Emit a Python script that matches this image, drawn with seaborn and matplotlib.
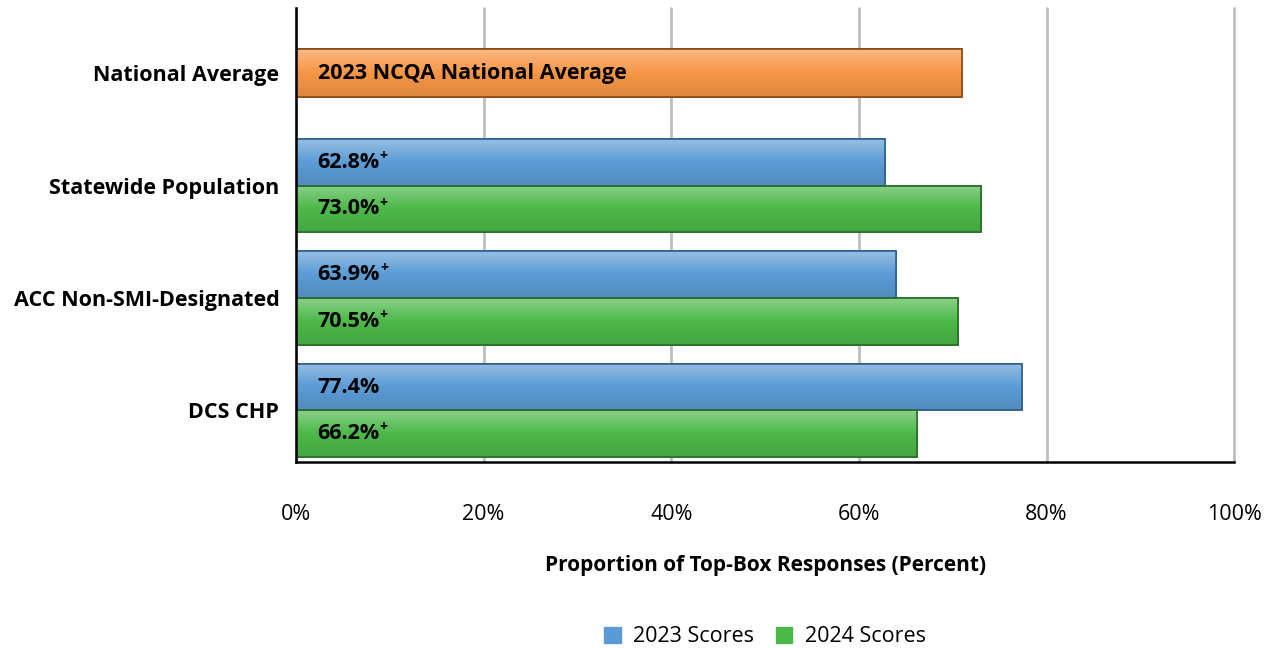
import matplotlib
matplotlib.use("Agg")
import matplotlib.pyplot as plt
import matplotlib.colors as mcolors
import numpy as np
import pandas as pd
import seaborn as sns

# data
groups = ["Statewide Population", "ACC Non-SMI-Designated", "DCS CHP"]
scores_2023 = [62.8, 63.9, 77.4]
scores_2024 = [73.0, 70.5, 66.2]
plus_2023 = [True, True, False]
plus_2024 = [True, True, True]
national_label = "National Average"
national_value = 71.0
national_text = "2023 NCQA National Average"
series = ["2023 Scores", "2024 Scores"]
colors = {"2023 Scores": "#5B9BD5", "2024 Scores": "#4CB848"}
edges = {"2023 Scores": "#2F5F8A", "2024 Scores": "#2A6E27"}
nat_color = "#F79646"

order = [national_label] + groups

df = pd.DataFrame({
    "group": groups * 2,
    "series": [series[0]] * 3 + [series[1]] * 3,
    "value": scores_2023 + scores_2024,
    "plus": plus_2023 + plus_2024,
})
nat = pd.DataFrame({"group": [national_label], "value": [national_value]})

sns.set_style("white")
plt.rcParams["font.family"] = ["Open Sans", "DejaVu Sans"]
plt.rcParams["text.color"] = "black"
plt.rcParams["xtick.color"] = "black"
plt.rcParams["ytick.color"] = "black"
plt.rcParams["axes.labelcolor"] = "black"

fig = plt.figure(figsize=(12.72, 6.48), dpi=100)
ax = fig.add_axes([0.2327, 0.287, 0.7377, 0.7007])

sns.barplot(data=nat, x="value", y="group", order=order, color=nat_color,
            saturation=1, width=0.43, edgecolor="#8A4A14", linewidth=1.2, ax=ax)
n_nat = len(ax.patches)
sns.barplot(data=df, x="value", y="group", hue="series", order=order,
            hue_order=series, palette=colors, saturation=1, width=0.83,
            dodge=True, linewidth=1.2, ax=ax, legend=False)

bars = ax.patches[n_nat:]
for i, p in enumerate(bars):
    s = series[0] if i < len(groups) else series[1]
    p.set_edgecolor(edges[s])


# soft vertical gradient like the original (lighter top, darker bottom)
def shade(patch, base):
    rgb = np.array(mcolors.to_rgb(base))
    t = np.linspace(0, 1, 64)[:, None]
    light = rgb + (1 - rgb) * 0.35
    dark = rgb * 0.9
    col = np.where(t < 0.5, light + (rgb - light) * (t / 0.5),
                   rgb + (dark - rgb) * ((t - 0.5) / 0.5))
    img = col[:, None, :]
    x0, y0 = patch.get_x(), patch.get_y()
    w, h = patch.get_width(), patch.get_height()
    im = ax.imshow(img, extent=(x0, x0 + w, y0 + h, y0), aspect="auto",
                   origin="upper", zorder=patch.get_zorder() + 0.1,
                   interpolation="bilinear")
    im.set_clip_path(patch)
    patch.set_zorder(patch.get_zorder())
    # redraw the edge above the gradient
    edge = plt.Rectangle((x0, y0), w, h, fill=False,
                         edgecolor=patch.get_edgecolor(), linewidth=1.2,
                         zorder=patch.get_zorder() + 0.2)
    ax.add_patch(edge)


shade(ax.patches[0], nat_color)
for i, p in enumerate(list(bars)):
    s = series[0] if i < len(groups) else series[1]
    shade(p, colors[s])

# labels inside bars
lab_style = dict(fontsize=15.5, fontweight="bold", va="center", ha="left",
                 color="black", zorder=10)
p0 = ax.patches[0]
ax.text(2.3, p0.get_y() + p0.get_height() / 2, national_text, **lab_style)
for i, p in enumerate(bars):
    row = df.iloc[i]
    yc = p.get_y() + p.get_height() / 2
    t = ax.text(2.3, yc, f"{row['value']:.1f}%", **lab_style)
    if row["plus"]:
        ax.annotate("+", xy=(1.0, 0.8), xycoords=t, fontsize=10,
                    fontweight="bold", ha="left", va="center", zorder=10)

ax.set_xlim(0, 100)
ax.set_ylim(3.46, -0.58)
ax.set_xticks([0, 20, 40, 60, 80, 100])
ax.set_xticklabels([f"{v}%" for v in [0, 20, 40, 60, 80, 100]], fontsize=15.5)
ax.tick_params(axis="x", length=0, pad=30)
ax.tick_params(axis="y", length=0, pad=12)
for lab in ax.get_yticklabels():
    lab.set_fontweight("bold")
    lab.set_fontsize(15.5)
ax.set_ylabel("")
ax.set_xlabel("Proportion of Top-Box Responses (Percent)", fontsize=15,
              fontweight="bold", labelpad=22)

ax.grid(axis="x", color="#BFBFBF", linewidth=2)
for gl in ax.get_xgridlines():
    gl.set_clip_on(False)
ax.set_axisbelow(True)
for side in ["top", "right"]:
    ax.spines[side].set_visible(False)
for side in ["left", "bottom"]:
    ax.spines[side].set_color("black")
    ax.spines[side].set_linewidth(1.8)
    ax.spines[side].set_zorder(12)

handles = [plt.Rectangle((0, 0), 1, 1, color=colors[s]) for s in series]
fig.legend(handles, series, loc="center", bbox_to_anchor=(0.6016, 0.017),
           ncol=2, frameon=False, fontsize=15.5, handlelength=0.75,
           handleheight=0.75, columnspacing=1.0, handletextpad=0.6)

fig.savefig("out.png", dpi=100)
